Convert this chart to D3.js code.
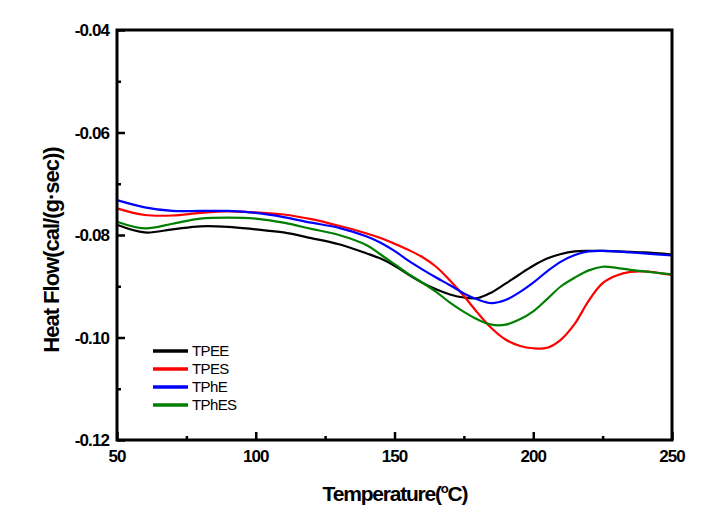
<!DOCTYPE html>
<html><head><meta charset="utf-8">
<script src="https://cdn.jsdelivr.net/npm/d3@7"></script>
<style>
body{margin:0;background:#fff;}
text{font-family:"Liberation Sans",Arial,sans-serif;}
</style></head>
<body><svg id="c" width="711" height="518"></svg>
<script>
const temps = [50,60,70,80,90,100,110,120,130,140,145,150,155,160,165,170,175,180,185,190,195,200,205,210,215,220,225,230,235,240,250];
const TPEE  = [-0.0780,-0.0795,-0.0789,-0.0783,-0.0784,-0.0789,-0.0795,-0.0806,-0.0818,-0.0836,-0.0846,-0.0860,-0.0877,-0.0893,-0.0906,-0.0916,-0.0922,-0.0923,-0.0912,-0.0895,-0.0877,-0.0860,-0.0846,-0.0837,-0.0832,-0.0831,-0.0831,-0.0832,-0.0833,-0.0834,-0.0838];
const TPES  = [-0.0748,-0.0761,-0.0762,-0.0757,-0.0754,-0.0756,-0.0760,-0.0769,-0.0782,-0.0797,-0.0806,-0.0817,-0.0829,-0.0843,-0.0862,-0.0889,-0.0919,-0.0952,-0.0982,-0.1004,-0.1016,-0.1021,-0.1020,-0.1004,-0.0973,-0.0928,-0.0894,-0.0879,-0.0872,-0.0871,-0.0878];
const TPhE  = [-0.0732,-0.0746,-0.0753,-0.0753,-0.0753,-0.0757,-0.0765,-0.0776,-0.0786,-0.0803,-0.0815,-0.0831,-0.0850,-0.0867,-0.0883,-0.0898,-0.0914,-0.0926,-0.0933,-0.0927,-0.0912,-0.0893,-0.0871,-0.0852,-0.0839,-0.0832,-0.0831,-0.0832,-0.0834,-0.0836,-0.0840];
const TPhES = [-0.0774,-0.0787,-0.0778,-0.0768,-0.0766,-0.0768,-0.0776,-0.0788,-0.0800,-0.0820,-0.0838,-0.0857,-0.0876,-0.0893,-0.0911,-0.0932,-0.0950,-0.0965,-0.0975,-0.0975,-0.0965,-0.0949,-0.0925,-0.0900,-0.0883,-0.0869,-0.0862,-0.0864,-0.0868,-0.0871,-0.0877];
const seriesNames = ["TPEE","TPES","TPhE","TPhES"];
const seriesColors = ["#000000","#ff0000","#0000ff","#008000"];
const seriesValues = [TPEE,TPES,TPhE,TPhES];
const xTicks = [50,100,150,200,250];
const yTicks = [-0.04,-0.06,-0.08,-0.10,-0.12];

const svg = d3.select("#c");
const L=117,R=672,T=30,B=440;
const x = d3.scaleLinear().domain([50,250]).range([L,R]);
const y = d3.scaleLinear().domain([-0.12,-0.04]).range([B,T]);

// curves
const line = d3.line().x(d=>x(d[0])).y(d=>y(d[1])).curve(d3.curveCatmullRom.alpha(0.5));
seriesValues.forEach((vals,i)=>{
  svg.append("path").datum(temps.map((t,j)=>[t,vals[j]]))
    .attr("d",line).attr("fill","none").attr("stroke",seriesColors[i]).attr("stroke-width",2.2);
});

// axes
const yMinor = d3.range(-0.11,-0.04,0.02);
const xMinor = [75,125,175,225];
const gy = svg.append("g").attr("transform",`translate(${L},0)`);
gy.call(d3.axisRight(y).tickValues(yMinor).tickSize(4).tickFormat(""));
gy.call(g=>g.selectAll(".domain").remove());
const gy2 = svg.append("g").attr("transform",`translate(${L},0)`);
gy2.call(d3.axisRight(y).tickValues(yTicks).tickSize(8).tickFormat(""));
gy2.call(g=>g.selectAll(".domain").remove());

const gx = svg.append("g").attr("transform",`translate(0,${B})`);
gx.call(d3.axisTop(x).tickValues(xMinor).tickSize(4).tickFormat(""));
gx.call(g=>g.selectAll(".domain").remove());
const gx2 = svg.append("g").attr("transform",`translate(0,${B})`);
gx2.call(d3.axisTop(x).tickValues(xTicks).tickSize(8).tickFormat(""));
gx2.call(g=>g.selectAll(".domain").remove());
svg.selectAll("g line").attr("stroke","#000").attr("stroke-width",2.5);

// frame
svg.append("rect").attr("x",L).attr("y",T).attr("width",R-L).attr("height",B-T)
  .attr("fill","none").attr("stroke","#000").attr("stroke-width",3);

// tick labels
svg.selectAll(".yl").data(yTicks).enter().append("text")
  .attr("x",L-8).attr("y",d=>y(d)).attr("dy","0.36em").attr("text-anchor","end")
  .attr("font-size",17).attr("font-weight","bold").attr("letter-spacing","-0.9")
  .text(d=>d.toFixed(2));
svg.selectAll(".xl").data(xTicks).enter().append("text")
  .attr("x",d=>x(d)).attr("y",B+22).attr("text-anchor","middle")
  .attr("font-size",17).attr("font-weight","bold").attr("letter-spacing","-0.9")
  .text(d=>d);

// axis titles
const xt = svg.append("text").attr("x",395).attr("y",501).attr("text-anchor","middle")
  .attr("font-size",21).attr("font-weight","bold").attr("letter-spacing","-1.2");
xt.append("tspan").text("Temperature(");
xt.append("tspan").attr("font-size",13).attr("dy",-8).text("o");
xt.append("tspan").attr("dy",8).text("C)");
svg.append("text").attr("transform","translate(59,250) rotate(-90)").attr("text-anchor","middle")
  .attr("font-size",22).attr("font-weight","bold").attr("letter-spacing","-1")
  .text("Heat Flow(cal/(g·sec))");

// legend
seriesNames.forEach((n,i)=>{
  const ly = 351 + i*18;
  svg.append("line").attr("x1",153).attr("x2",188).attr("y1",ly).attr("y2",ly)
    .attr("stroke",seriesColors[i]).attr("stroke-width",3.5);
  svg.append("text").attr("x",192).attr("y",ly).attr("dy","0.36em")
    .attr("font-size",15).attr("letter-spacing","-0.6").text(n);
});
</script></body></html>
